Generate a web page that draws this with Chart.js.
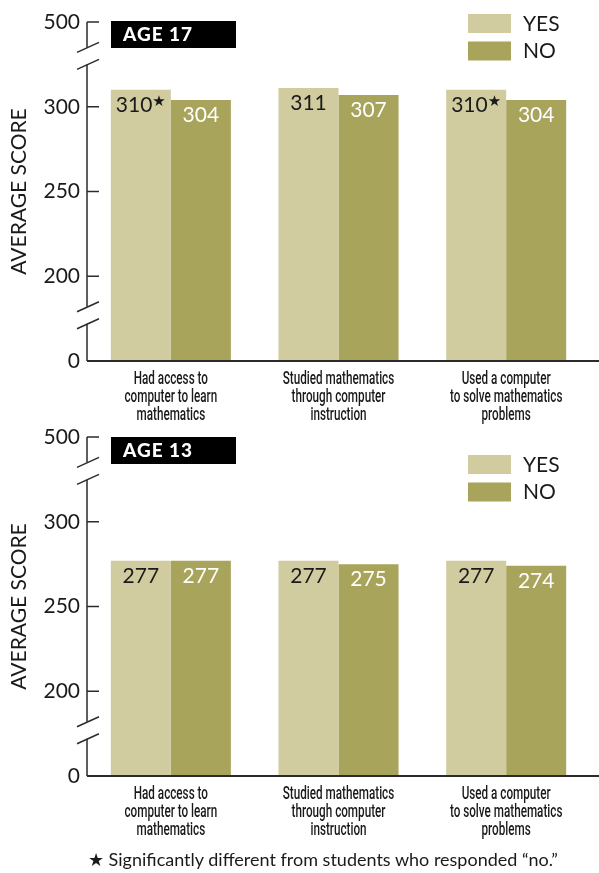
<!DOCTYPE html>
<html lang="en">
<head>
  <meta charset="UTF-8" />
  <title>Average mathematics score by computer use</title>
  <script src="https://cdn.jsdelivr.net/npm/chart.js@4"></script>
  <style>
    body {
      margin: 0;
      padding: 0;
      background: #fff;
      width: 599px;
      height: 873px;
      position: relative;
      overflow: hidden;
    }
    canvas { display: block; }
    .panel { position: absolute; left: 0; width: 599px; height: 430px; }
    #note {
      position: absolute;
      top: 848px;
      left: 88px;
      font-family: 'Lato', sans-serif;
      font-size: 18px;
      color: #1a1a1a;
      white-space: nowrap;
    }
  </style>
</head>
<body>
  <div class="panel" style="top:0"><canvas id="age17" width="599" height="430"></canvas></div>
  <div class="panel" style="top:415px"><canvas id="age13" width="599" height="430"></canvas></div>
  <div id="note">★ Significantly different from students who responded “no.”</div>

  <script>
    const categories = [
      ["Had access to", "computer to learn", "mathematics"],
      ["Studied mathematics", "through computer", "instruction"],
      ["Used a computer", "to solve mathematics", "problems"]
    ];
    const seriesNames = ["YES", "NO"];
    const age17Yes = [310, 311, 310];
    const age17No = [304, 307, 304];
    const age17Star = [true, false, true];
    const age13Yes = [277, 277, 277];
    const age13No = [277, 275, 274];
    const age13Star = [false, false, false];
    const tickLabels = [0, 200, 250, 300, 500];

    const YES_COLOR = "#d1cca0";
    const NO_COLOR = "#a8a45c";
    const INK = "#1a1a1a";

    // the axis is broken twice: 0 sits where 150 would be, 500 where 350 would be
    function toAxis(v) {
      if (v === 0) return 150;
      if (v === 500) return 350;
      return v;
    }
    function fromAxis(v) {
      if (v === 150) return "0";
      if (v === 350) return "500";
      return String(v);
    }

    const decor = {
      id: "decor",
      afterDatasetsDraw(chart, args, opts) {
        const ctx = chart.ctx;
        ctx.save();
        ctx.textAlign = "left";
        ctx.textBaseline = "middle";
        chart.data.datasets.forEach((ds, di) => {
          chart.getDatasetMeta(di).data.forEach((bar, i) => {
            const txt = String(ds.data[i]);
            const star = di === 0 && opts.stars[i];
            ctx.font = "21px Lato";
            const w = ctx.measureText(txt).width;
            ctx.font = "15px 'DejaVu Sans'";
            const sw = star ? ctx.measureText("★").width : 0;
            const x0 = bar.x - (w + sw) / 2;
            const y0 = bar.y + 15;
            ctx.fillStyle = di === 0 ? INK : "#fff";
            ctx.font = "21px Lato";
            ctx.fillText(txt, x0, y0);
            if (star) {
              ctx.font = "15px 'DejaVu Sans'";
              ctx.fillText("★", x0 + w, y0 - 3);
            }
          });
        });
        ctx.restore();
      },
      afterDraw(chart, args, opts) {
        const ctx = chart.ctx;
        const a = chart.chartArea;
        const y = chart.scales.y;
        const x = chart.scales.x;
        const ax = a.left;
        ctx.save();
        ctx.strokeStyle = "#2b2b2b";
        ctx.lineWidth = 1.5;

        // axis line with two gaps
        const gaps = [330, 177].map(v => [y.getPixelForValue(v + 5), y.getPixelForValue(v - 5)]);
        const stops = [a.top, gaps[0][0], gaps[0][1], gaps[1][0], gaps[1][1], a.bottom];
        ctx.beginPath();
        for (let i = 0; i < stops.length; i += 2) {
          ctx.moveTo(ax, stops[i]);
          ctx.lineTo(ax, stops[i + 1]);
        }
        ctx.stroke();

        // break slashes
        gaps.forEach(g => {
          g.forEach(py => {
            ctx.beginPath();
            ctx.moveTo(ax - 10, py + 5);
            ctx.lineTo(ax + 12, py - 5);
            ctx.stroke();
          });
        });

        // inward tick marks
        y.ticks.forEach(t => {
          if (t.value === y.min) return;
          const py = y.getPixelForValue(t.value);
          ctx.beginPath();
          ctx.moveTo(ax, py);
          ctx.lineTo(ax + 12, py);
          ctx.stroke();
        });

        // baseline to the right edge
        ctx.lineWidth = 2;
        ctx.beginPath();
        ctx.moveTo(ax, a.bottom);
        ctx.lineTo(chart.width, a.bottom);
        ctx.stroke();

        // category labels, squeezed to look like a condensed face
        const squeeze = 0.65;
        ctx.fillStyle = INK;
        ctx.font = "500 18px Roboto";
        ctx.textAlign = "center";
        ctx.textBaseline = "middle";
        chart.data.labels.forEach((lines, i) => {
          const cx = x.getPixelForTick(i);
          lines.forEach((ln, k) => {
            ctx.save();
            ctx.translate(cx, a.bottom + 18 + k * 18.3);
            ctx.scale(squeeze, 1);
            ctx.fillText(ln, 0, 0);
            ctx.restore();
          });
        });

        // age box
        ctx.fillStyle = "#000";
        ctx.fillRect(111, opts.boxTop, 125, 27);
        ctx.fillStyle = "#fff";
        ctx.font = "900 19px Lato";
        ctx.letterSpacing = "1px";
        ctx.textBaseline = "middle";
        ctx.textAlign = "left";
        ctx.fillText(opts.ageLabel, 123, opts.boxTop + 14);
        ctx.letterSpacing = "0px";

        // legend
        chart.data.datasets.forEach((ds, i) => {
          const ly = opts.legendTop + i * 27.5;
          ctx.fillStyle = ds.backgroundColor;
          ctx.fillRect(468, ly, 43, 19);
          ctx.fillStyle = INK;
          ctx.font = "21px Lato";
          ctx.fillText(ds.label, 523, ly + 10);
        });
        ctx.restore();
      }
    };

    function makePanel(id, yes, no, stars, ageLabel, boxTop, legendTop) {
      return new Chart(document.getElementById(id), {
        type: "bar",
        data: {
          labels: categories,
          datasets: [
            { label: seriesNames[0], data: yes, backgroundColor: YES_COLOR },
            { label: seriesNames[1], data: no, backgroundColor: NO_COLOR }
          ]
        },
        options: {
          responsive: false,
          animation: false,
          datasets: { bar: { categoryPercentage: 0.716, barPercentage: 1.0 } },
          layout: { padding: { left: 0, right: 9, top: 22, bottom: 0 } },
          plugins: {
            legend: { display: false },
            tooltip: { enabled: false },
            decor: { stars, ageLabel, boxTop, legendTop }
          },
          scales: {
            x: {
              grid: { display: false, drawTicks: false },
              border: { display: false },
              ticks: { display: false },
              afterFit: s => { s.height = 69; }
            },
            y: {
              min: 150,
              max: 350,
              grid: { display: false, drawTicks: false },
              border: { display: false },
              afterBuildTicks: s => { s.ticks = tickLabels.map(v => ({ value: toAxis(v) })); },
              ticks: {
                padding: 7,
                color: INK,
                font: { family: "Lato", size: 21 },
                callback: v => fromAxis(v)
              },
              title: {
                display: true,
                text: "AVERAGE SCORE",
                color: INK,
                font: { family: "Lato", size: 21 },
                padding: { top: 7, bottom: 0 }
              },
              afterFit: s => { s.width = 87; }
            }
          }
        },
        plugins: [decor]
      });
    }

    makePanel("age17", age17Yes, age17No, age17Star, "AGE 17", 21, 14);
    makePanel("age13", age13Yes, age13No, age13Star, "AGE 13", 22, 40);
  </script>
</body>
</html>
